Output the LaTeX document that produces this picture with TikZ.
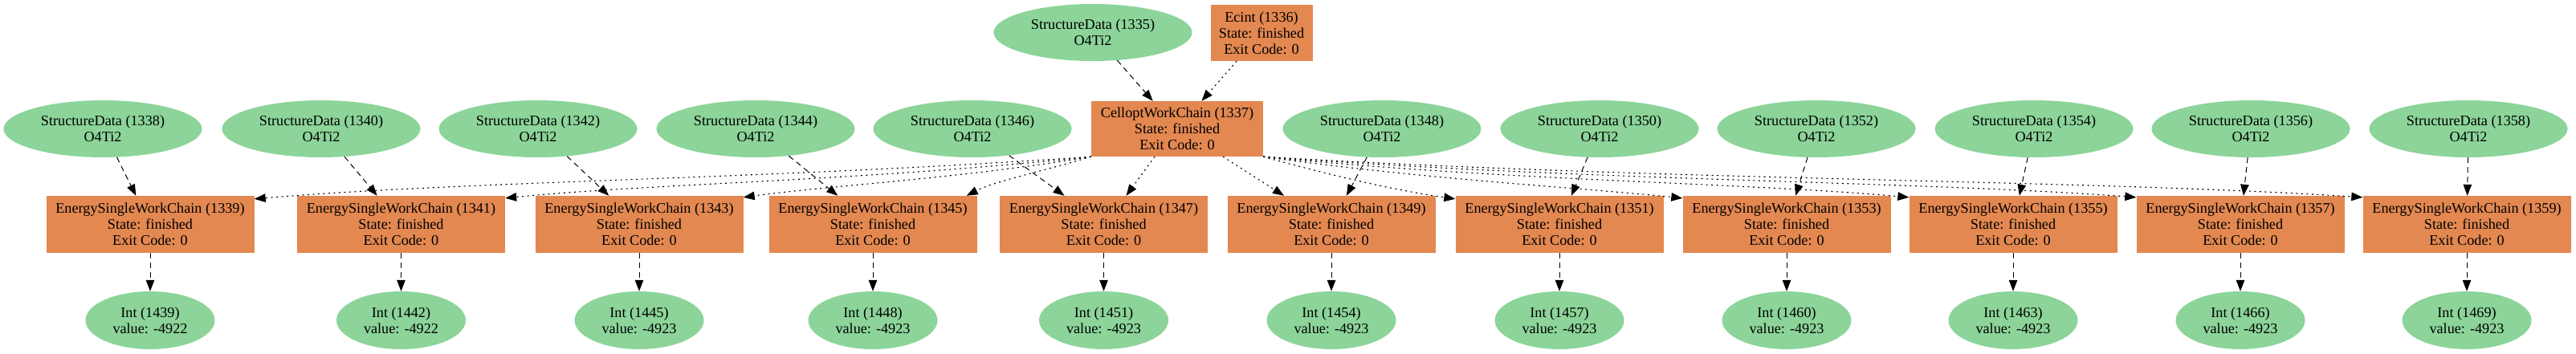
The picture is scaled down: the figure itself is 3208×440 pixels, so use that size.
\documentclass[tikz,border=0pt]{standalone}
\usepackage{fontspec}
\setmainfont{Liberation Serif}
\usetikzlibrary{shapes.geometric,arrows.meta}
\definecolor{dgreen}{HTML}{8CD499}
\definecolor{porange}{HTML}{E38851}
\tikzset{
 every node/.style={font=\fontsize{18.2}{20}\selectfont, align=center, inner sep=0pt},
 datanode/.style={ellipse, fill=dgreen, minimum width=247pt, minimum height=71pt},
 intnode/.style={ellipse, fill=dgreen, minimum width=161pt, minimum height=72pt},
 procnode/.style={rectangle, fill=porange, minimum width=259pt, minimum height=71pt},
 inlink/.style={-{Triangle[length=14pt,width=10.5pt]}, line width=1pt, dash pattern=on 7pt off 5pt},
 calllink/.style={-{Triangle[length=14pt,width=10.5pt]}, line width=1.1pt, dash pattern=on 2pt off 4.5pt},
}
\begin{document}
\begin{tikzpicture}[x=1pt,y=1pt]
\useasboundingbox (0,0) rectangle (3208,-440);
% top
\node[datanode] (s1335) at (1361,-40.5) {StructureData (1335)\\O4Ti2};
\node[procnode, minimum width=127pt, minimum height=70pt] (ec1336) at (1571,-41) {Ecint (1336)\\State: finished\\Exit Code: 0};
\node[procnode, minimum width=214pt, minimum height=69pt] (cell) at (1466,-160.5) {CelloptWorkChain (1337)\\State: finished\\Exit Code: 0};
\draw[inlink] (s1335) -- (cell);
\draw[calllink] (ec1336) -- (cell);
% rows
\foreach \s/\sx/\e/\ex/\i/\v in {
 1338/128/1339/187/1439/-4922,
 1340/400/1341/499.5/1442/-4922,
 1342/670/1343/796/1445/-4923,
 1344/941/1345/1087/1448/-4923,
 1346/1211/1347/1374.5/1451/-4923,
 1348/1721/1349/1658/1454/-4923,
 1350/1992/1351/1942/1457/-4923,
 1352/2262/1353/2225/1460/-4923,
 1354/2533/1355/2507/1463/-4923,
 1356/2803/1357/2790/1466/-4923,
 1358/3074/1359/3072/1469/-4923}{
 \node[datanode] (s\s) at (\sx,-160.5) {StructureData (\s)\\O4Ti2};
 \node[procnode] (e\e) at (\ex,-279.5) {EnergySingleWorkChain (\e)\\State: finished\\Exit Code: 0};
 \node[intnode] (i\i) at (\ex,-399) {Int (\i)\\value: \v};
 \draw[inlink] (s\s) -- (e\e);
 \draw[inlink] (e\e) -- (i\i);
}
% call links from CelloptWorkChain
\draw[calllink] (cell.south west) .. controls +(-400,-28) and +(260,22) .. ([yshift=-4pt]e1339.north east);
\draw[calllink] (cell.south west) .. controls +(-280,-30) and +(180,18) .. ([yshift=-3pt]e1341.north east);
\draw[calllink] (cell.south west) .. controls +(-170,-28) and +(110,15) .. ([yshift=-2pt]e1343.north east);
\draw[calllink] (cell.south west) .. controls +(-60,-18) and +(35,18) .. ([xshift=-13pt]e1345.north east);
\draw[calllink] ([xshift=-28pt]cell.south) -- ([xshift=28pt]e1347.north);
\draw[calllink] ([xshift=57pt]cell.south) -- ([xshift=-59pt]e1349.north);
\draw[calllink] (cell.south east) .. controls +(90,-25) and +(-70,10) .. ([yshift=-4pt]e1351.north west);
\draw[calllink] (cell.south east) .. controls +(200,-28) and +(-140,14) .. ([yshift=-3pt]e1353.north west);
\draw[calllink] (cell.south east) .. controls +(300,-30) and +(-200,18) .. ([yshift=-2pt]e1355.north west);
\draw[calllink] (cell.south east) .. controls +(400,-30) and +(-270,20) .. ([yshift=-2pt]e1357.north west);
\draw[calllink] (cell.south east) .. controls +(500,-30) and +(-340,22) .. ([yshift=-2pt]e1359.north west);
\end{tikzpicture}
\end{document}
